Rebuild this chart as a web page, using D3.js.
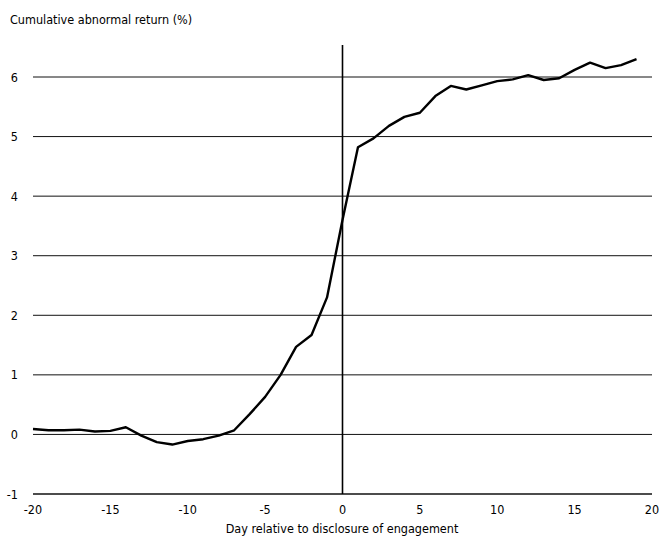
<!DOCTYPE html>
<html><head><meta charset="utf-8">
<script src="https://cdn.jsdelivr.net/npm/d3@7"></script>
<style>
body{margin:0;background:#fff;}
text{font-family:"Liberation Sans Narrow","DejaVu Sans Condensed","Arial Narrow",sans-serif;fill:#000;}
</style></head>
<body>
<svg id="chart" width="662" height="538"></svg>
<script>
const days = d3.range(-20, 20);
const car = [0.09,0.07,0.07,0.08,0.05,0.06,0.12,-0.02,-0.13,-0.17,-0.11,-0.08,-0.02,0.07,0.34,
  0.63,1.0,1.47,1.67,2.3,3.6,4.82,4.97,5.18,5.33,5.4,5.68,5.85,5.79,5.86,5.93,5.96,6.03,5.95,5.98,6.12,6.24,6.15,6.2,6.3];
const yTicks = [-1,0,1,2,3,4,5,6];
const xTicks = [-20,-15,-10,-5,0,5,10,15,20];
const yTitle = "Cumulative abnormal return (%)";
const xTitle = "Day relative to disclosure of engagement";

const svg = d3.select("#chart");
const x = d3.scaleLinear().domain([-20,20]).range([33,652]);
const y = d3.scaleLinear().domain([-1,6]).range([494,77]);

svg.append("g").selectAll("line").data(yTicks).join("line")
  .attr("x1", x(-20)).attr("x2", x(20))
  .attr("y1", d=>y(d)).attr("y2", d=>y(d))
  .attr("stroke", "#111").attr("stroke-width", d=>d===-1?1.3:1);

svg.append("g").selectAll("text").data(yTicks).join("text")
  .attr("x", 18).attr("y", d=>y(d)+4.5).attr("text-anchor","end")
  .attr("font-size", 12.5).text(d=>d);

svg.append("g").selectAll("text").data(xTicks).join("text")
  .attr("x", d=>x(d)).attr("y", 514).attr("text-anchor","middle")
  .attr("font-size", 12.5).text(d=>d);

svg.append("line").attr("x1", x(0)).attr("x2", x(0)).attr("y1", 45).attr("y2", y(-1))
  .attr("stroke","#000").attr("stroke-width",1.6);

const line = d3.line().x((d,i)=>x(days[i])).y(d=>y(d)).curve(d3.curveLinear);
svg.append("path").datum(car).attr("d", line)
  .attr("fill","none").attr("stroke","#000").attr("stroke-width",2.4).attr("stroke-linejoin","round");

svg.append("text").attr("x", 10).attr("y", 24).attr("font-size", 12.5).text(yTitle);
svg.append("text").attr("x", 342).attr("y", 533).attr("text-anchor","middle").attr("font-size", 12.5).text(xTitle);
</script>
</body></html>
